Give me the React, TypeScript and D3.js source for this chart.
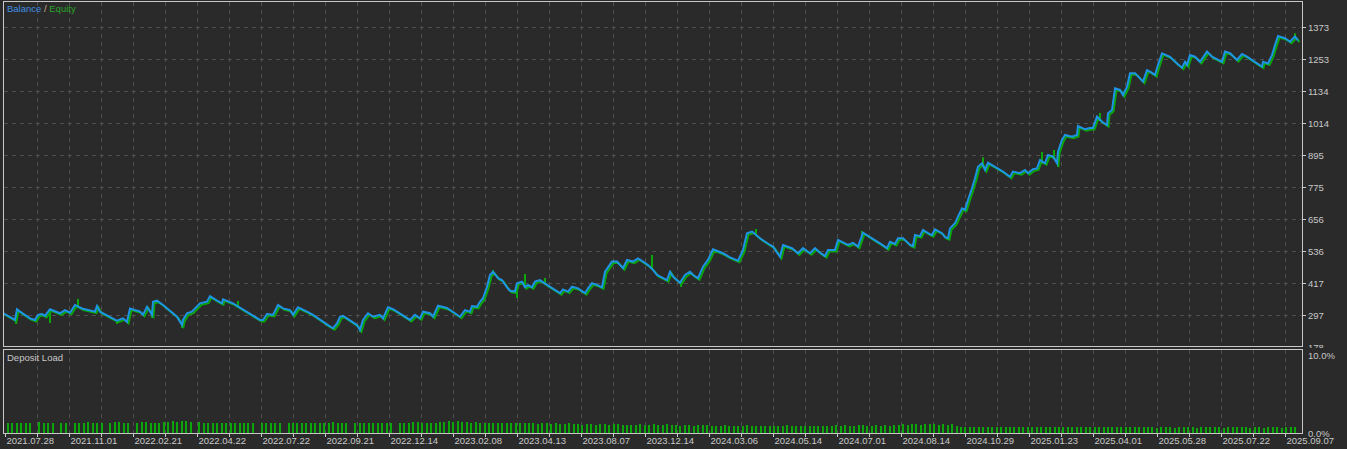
import React from 'react';
import * as d3 from 'd3';

// balance curve (x = deal number along the axis)
const tradeNo = [
  0, 12, 14, 17, 27, 32, 35, 39, 42, 47, 57, 62, 67, 72, 79, 92, 94, 97, 114, 120, 124, 127, 137, 140, 144, 149, 150, 154, 160,
  174, 179, 180, 184, 189, 192, 197, 204, 207, 214, 219, 220, 230, 257, 260, 264, 270, 275, 280, 287, 290, 295, 304, 310,
  325, 330, 334, 337, 340, 354, 357, 360, 365, 370, 377, 380, 385, 390, 407, 412, 417, 420, 427, 430, 435, 444,
  457, 462, 467, 469, 474, 477, 480, 484, 487, 490, 495, 499, 504, 507, 512, 514, 519, 522, 525, 529, 532, 537, 544,
  557, 560, 565, 569, 575, 582, 585, 589, 594, 599, 602, 609, 614, 620, 624, 630, 635, 640, 645, 650, 654, 664, 667,
  670, 677, 682, 687, 690, 695, 700, 705, 710, 720, 727, 735, 740, 744, 749, 757, 767, 770, 777, 780, 789, 795, 800,
  807, 812, 817, 822, 825, 832, 835, 845, 850, 855, 860, 869, 877, 884, 887,
  892, 895, 900, 907, 910, 912, 917, 920, 925, 929, 932, 939, 942, 945, 947, 952, 955, 959, 962, 965, 969, 972, 975,
  979, 982, 985, 992, 1000, 1007, 1010, 1017, 1022, 1025, 1030, 1034, 1037, 1042, 1045, 1050, 1054, 1055, 1059, 1062,
  1069, 1074, 1075, 1082, 1087, 1090, 1094, 1099, 1104, 1105, 1109, 1112, 1117, 1120, 1124, 1127, 1132, 1137, 1140,
  1144, 1147, 1152, 1155, 1159, 1167, 1174, 1179, 1182, 1184, 1187, 1192, 1197, 1204, 1209, 1219, 1222, 1227, 1234,
  1239, 1244, 1254, 1259, 1260, 1265, 1269, 1272, 1275, 1282, 1287, 1292, 1295,
];
const balance = [
  305, 279, 319, 310, 285, 279, 298, 301, 294, 319, 304, 316, 306, 335, 322, 310, 331, 310, 276, 285, 272, 322, 310, 298, 328, 298, 347, 351, 335,
  291, 260, 279, 304, 310, 322, 341, 347, 368, 351, 341, 356, 341, 279, 279, 301, 298, 335, 322, 316, 298, 326, 310, 298,
  260, 248, 266, 291, 294, 260, 241, 279, 304, 291, 298, 285, 326, 319, 279, 298, 285, 310, 304, 291, 332, 324,
  291, 316, 310, 331, 328, 347, 360, 403, 447, 459, 435, 428, 401, 388, 385, 416, 422, 401, 410, 401, 422, 428, 410,
  379, 393, 385, 403, 397, 379, 397, 416, 410, 401, 459, 497, 497, 472, 503, 497, 509, 497, 484, 466, 447, 428, 459,
  441, 418, 447, 459, 447, 435, 478, 503, 543, 528, 513, 500, 540, 603, 609, 584, 559, 553, 515, 559, 547, 528, 547,
  528, 547, 530, 518, 540, 540, 578, 559, 567, 553, 605, 584, 565, 547, 571,
  563, 584, 584, 559, 555, 596, 592, 615, 603, 596, 617, 603, 588, 584, 621, 640, 665, 696, 690, 727, 771, 808,
  851, 864, 839, 866, 851, 833, 814, 833, 827, 839, 827, 842, 845, 876, 864, 895, 889, 864, 907, 951,
  970, 963, 970, 1003, 991, 996, 996, 1038, 1019, 1007, 1051, 1063, 1144, 1138, 1119, 1150, 1200, 1200, 1181,
  1169, 1212, 1206, 1194, 1231, 1275, 1262, 1237, 1221, 1243, 1231, 1268, 1262, 1243, 1281, 1262, 1243, 1281, 1275,
  1250, 1272, 1262, 1237, 1225, 1243, 1237, 1268, 1306, 1339, 1331, 1318, 1337, 1322,
];

// equity excursions away from balance
const spikeTrade = [13, 47, 75, 114, 149, 179, 235, 357, 490, 514, 522, 542, 649, 678, 753, 859, 980, 1039, 1051, 1055, 1097, 1292];
const spikeEquity = [264, 268, 357, 264, 286, 249, 350, 234, 466, 361, 451, 436, 522, 402, 619, 611, 887, 906, 914, 850, 1052, 1350];

// deposit load, %
const depositLoad = [
  1.3, 1.2, 1.2, 1.3, 1.3, 1.2, 0, 1.4, 1.3, 1.3,
  1.2, 0, 1.2, 1.3, 0, 1.3, 1.2, 1.3, 1.4, 1.2,
  1.3, 1.2, 0, 1.3, 1.4, 1.4, 1.3, 1.2, 0, 1.3,
  1.4, 1.4, 1.3, 1.2, 1.3, 1.4, 1.4, 1.5, 1.4, 1.5,
  1.5, 1.4, 0, 1.4, 1.3, 1.2, 1.2, 1.3, 1.2, 1.2,
  1.2, 1.3, 1.2, 1.2, 1.3, 1.2, 0, 1.2, 1.3, 1.3,
  1.2, 1.2, 0, 1.3, 1.2, 1.3, 1.2, 1.2, 1.3, 1.3,
  1.3, 1.2, 1.3, 1.4, 1.3, 1.3, 1.2, 0, 1.2, 1.3,
  1.3, 1.3, 1.2, 1.3, 1.2, 1.3, 1.3, 0, 1.3, 1.2,
  1.3, 1.4, 1.4, 1.3, 1.3, 1.2, 1.3, 1.4, 1.4, 1.5,
  1.4, 1.5, 1.4, 1.4, 1.3, 1.4, 1.3, 1.3, 1.2, 1.3,
  1.2, 1.3, 1.2, 1.2, 1.3, 1.2, 1.3, 1.2, 1.2, 1.1,
  1.2, 1.2, 1.1, 1.2, 1.1, 1.1, 1.2, 1.1, 1.1, 1.0,
  1.1, 1.1, 1.0, 1.1, 1.1, 1.0, 1.1, 1.1, 1.0, 1.0,
  1.0, 1.0, 1.1, 1.0, 1.0, 1.1, 1.0, 1.0, 1.1, 1.0,
  1.0, 0.9, 1.0, 1.0, 0.9, 1.0, 1.0, 1.0, 0.9, 0.9,
  0.9, 1.0, 0.9, 0.9, 0.9, 0.9, 1.0, 0.9, 0.9, 0.9,
  0.9, 0.9, 0.9, 0.9, 0.9, 1.0, 0.9, 0.9, 0.9, 0.9,
  0.9, 0.9, 0.9, 0.9, 0.9, 0.9, 1.0, 0.9, 1.0, 0.9,
  0.9, 1.0, 1.0, 0.9, 0.9, 1.0, 0.9, 1.0, 0.9, 1.0,
  1.0, 1.1, 1.0, 1.1, 1.1, 1.0, 1.1, 1.1, 1.1, 1.0,
  1.1, 1.0, 1.1, 0.9, 0.8, 0.8, 0.8, 0.7, 0.8, 0.8,
  0.8, 0.7, 0.7, 0.8, 0.7, 0.7, 0.7, 0.8, 0.7, 0.7,
  0.7, 0.7, 0.8, 0.7, 0.7, 0.7, 0.7, 0.7, 0.8, 0.7,
  0.7, 0.7, 0.7, 0.7, 0.7, 0.8, 0.7, 0.7, 0.7, 0.7,
  0.7, 0.7, 0.7, 0.7, 0.7, 0.7, 0.7, 0.7, 0.6, 0.7,
  0.7, 0.7, 0.6, 0.7, 0.7, 0.7, 0.7, 0.6, 0.7, 0.7,
  0.7, 0.7, 0.7, 0.6, 0.7, 0.7, 0.7, 0.7, 0.7, 0.6,
  0.7, 0.7, 0.6, 0.7, 0.7, 0.7, 0.6, 0.7, 0.7, 0.7,
];

const dateLabels = [
  '2021.07.28', '2021.11.01', '2022.02.21', '2022.04.22', '2022.07.22', '2022.09.21', '2022.12.14',
  '2023.02.08', '2023.04.13', '2023.08.07', '2023.12.14', '2024.03.06', '2024.05.14', '2024.07.01',
  '2024.08.14', '2024.10.29', '2025.01.23', '2025.04.01', '2025.05.28', '2025.07.22', '2025.09.07',
];
const yTicks = [178, 297.5, 417, 536.5, 656, 775.5, 895, 1014.5, 1134, 1253.5, 1373];
const loadTicks = [0, 10];

const W = 1347;
const H = 449;
const BG = '#2a2a2a';
const FG = '#c8c8c8';
const GRID = '#4e4e4e';
const BLUE = '#1e94e6';
const GREEN = '#0aa60a';
const FONT = '"Liberation Sans", Arial, sans-serif';

const panelL = 3.5;
const panelR = 1302.5;
const mainTop = 1.5;
const mainBot = 346.5;
const loadTop = 349.5;
const loadBot = 433.5;

const App = () => {
  const x = d3.scaleLinear().domain([0, 1296]).range([3, 1299]);
  const y = d3.scaleLinear().domain([178, 1373]).range([347, 27]);
  const dateX = d3.scaleLinear().domain([0, dateLabels.length - 1]).range([5, 1285]);
  const loadX = d3.scaleLinear().domain([0, depositLoad.length - 1]).range([7, 1294]);
  const loadY = d3.scaleLinear().domain([0, 10]).range([432.7, 355.3]);
  // balance as a function of deal number, to hang the equity spikes on
  const balAt = d3.scaleLinear().domain(tradeNo).range(balance);

  const pts: [number, number][] = tradeNo.map((t, i) => [t, balance[i]]);
  const line = d3.line<[number, number]>().x(d => x(d[0])).y(d => y(d[1]));
  const path = line(pts) || '';

  const gridX = d3.range(1, (dateLabels.length - 1) * 2 + 1).map(k => dateX(k / 2));
  const tickX = d3.range(0, (dateLabels.length - 1) * 2 + 1).map(k => dateX(k / 2));

  return (
    <svg width={W} height={H} style={{ position: 'absolute', left: 0, top: 0, display: 'block' }}
      fontFamily={FONT} fontSize={9.5}>
      <defs>
        <clipPath id="mainClip">
          <rect x={panelL} y={mainTop} width={panelR - panelL} height={mainBot - mainTop} />
        </clipPath>
        <clipPath id="axisClip">
          <rect x={1303} y={0} width={44} height={348} />
        </clipPath>
      </defs>
      <rect x={0} y={0} width={W} height={H} fill={BG} />

      {/* grid */}
      <g stroke={GRID} strokeWidth={1} strokeDasharray="4 4" shapeRendering="crispEdges">
        {gridX.map((gx, i) => (
          <line key={'gx' + i} x1={Math.round(gx) + 0.5} x2={Math.round(gx) + 0.5} y1={mainTop} y2={mainBot} />
        ))}
        {gridX.map((gx, i) => (
          <line key={'gl' + i} x1={Math.round(gx) + 0.5} x2={Math.round(gx) + 0.5} y1={loadTop} y2={loadBot} />
        ))}
        {yTicks.slice(1).map((v, i) => (
          <line key={'gy' + i} x1={panelL} x2={panelR} y1={Math.round(y(v)) + 0.5} y2={Math.round(y(v)) + 0.5} />
        ))}
      </g>

      {/* equity / balance */}
      <g clipPath="url(#mainClip)" fill="none" strokeWidth={2} strokeLinejoin="miter">
        <path d={path} stroke={GREEN} transform="translate(1.5,1.5)" />
        {spikeTrade.map((t, i) => (
          <line key={'sp' + i} x1={x(t)} x2={x(t)} y1={y(balAt(t))} y2={y(spikeEquity[i])} stroke={GREEN} strokeWidth={2} />
        ))}
        <path d={path} stroke={BLUE} />
      </g>

      {/* deposit load bars */}
      <g fill={GREEN} shapeRendering="crispEdges">
        {depositLoad.map((v, i) => v > 0 && (
          <rect key={'b' + i} x={Math.round(loadX(i))} y={loadY(v)} width={2} height={loadY(0) - loadY(v)} />
        ))}
      </g>

      {/* panel borders */}
      <g fill="none" stroke={FG} strokeWidth={1} shapeRendering="crispEdges">
        <rect x={panelL} y={mainTop} width={panelR - panelL} height={mainBot - mainTop} />
        <rect x={panelL} y={loadTop} width={panelR - panelL} height={loadBot - loadTop} />
      </g>

      {/* right axis */}
      <g stroke={FG} shapeRendering="crispEdges">
        {yTicks.slice(1).map((v, i) => (
          <line key={'yt' + i} x1={panelR} x2={panelR + 3} y1={Math.round(y(v)) + 0.5} y2={Math.round(y(v)) + 0.5} />
        ))}
        {tickX.map((tx, i) => (
          <line key={'xt' + i} x1={Math.round(tx) + 0.5} x2={Math.round(tx) + 0.5} y1={loadBot} y2={loadBot + 3} />
        ))}
      </g>
      <g fill={FG} clipPath="url(#axisClip)">
        {yTicks.map((v, i) => (
          <text key={'yl' + i} x={1308} y={y(v) + 3.5}>{Math.floor(v)}</text>
        ))}
      </g>

      {/* date labels */}
      <g fill={FG}>
        {dateLabels.map((d, i) => (
          <text key={'dl' + i} x={dateX(i) + 1.5} y={443.5}>{d}</text>
        ))}
      </g>

      {/* load axis */}
      <rect x={1303} y={427} width={44} height={10} fill={BG} />
      <g fill={FG}>
        {loadTicks.map((v, i) => (
          <text key={'ll' + i} x={1308} y={loadY(v) + 4}>{v.toFixed(1) + '%'}</text>
        ))}
      </g>

      {/* titles */}
      <text x={7} y={12} fontSize={9.5}>
        <tspan fill="#3f8fe0">Balance</tspan>
        <tspan fill="#d0b080"> / </tspan>
        <tspan fill="#2aa52a">Equity</tspan>
      </text>
      <text x={7} y={361} fill={FG}>Deposit Load</text>
    </svg>
  );
};

export default App;
